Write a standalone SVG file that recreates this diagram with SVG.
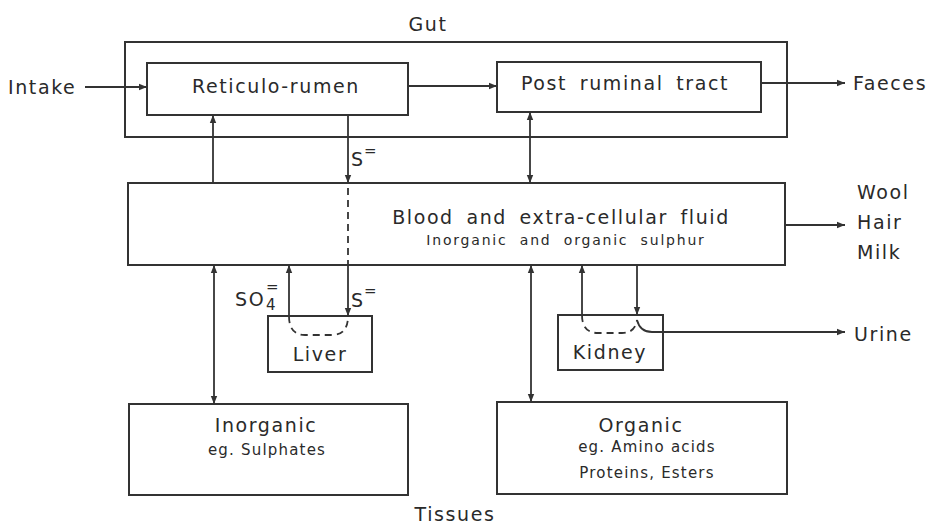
<svg xmlns="http://www.w3.org/2000/svg" width="936" height="525" viewBox="0 0 936 525">
<style>
.box{fill:none;stroke:#333;stroke-width:2}
.ln{fill:none;stroke:#333;stroke-width:1.8}
.ds{fill:none;stroke:#333;stroke-width:1.8;stroke-dasharray:7,5}
text{font-family:"DejaVu Sans","Liberation Sans",sans-serif;fill:#2a2a2a;text-anchor:middle}
.t{font-size:19px;letter-spacing:1.6px}
.w{word-spacing:5px}
.s{font-size:15px;letter-spacing:1.2px}
.b{font-size:14px;letter-spacing:1.8px;word-spacing:6px}
.sup{font-size:15px;text-anchor:start}
.l{text-anchor:start}
</style>
<defs>
<marker id="ah" viewBox="0 0 10 10" refX="10" refY="5" markerWidth="8" markerHeight="8" markerUnits="userSpaceOnUse" orient="auto-start-reverse">
<path d="M0,1 L10,5 L0,9 z" fill="#333"/>
</marker>
</defs>
<rect width="936" height="525" fill="#fff"/>
<text class="t" x="428" y="31">Gut</text>
<g id="gut"><rect class="box" x="125" y="42" width="662" height="95"/></g>
<g id="rumen"><rect class="box" x="147" y="63" width="261" height="52"/><text class="t" x="276" y="93">Reticulo-rumen</text></g>
<g id="post"><rect class="box" x="497" y="62" width="264" height="50"/><text class="t w" x="625" y="90">Post ruminal tract</text></g>
<g id="blood"><rect class="box" x="128" y="183" width="657" height="82"/><text class="t w" x="561" y="224">Blood and extra-cellular fluid</text><text class="b" x="566" y="245">Inorganic and organic sulphur</text></g>
<g id="liver"><rect class="box" x="268" y="316" width="104" height="56"/><text class="t" x="320" y="361">Liver</text></g>
<g id="kidney"><rect class="box" x="558" y="315" width="105" height="55"/><text class="t" x="610" y="359">Kidney</text></g>
<g id="inorganic"><rect class="box" x="129" y="404" width="279" height="91"/><text class="t" x="266" y="432">Inorganic</text><text class="s" x="267" y="455">eg. Sulphates</text></g>
<g id="organic"><rect class="box" x="497" y="402" width="290" height="92"/><text class="t" x="641" y="432">Organic</text><text class="s" x="647" y="452">eg. Amino acids</text><text class="s" x="647" y="478">Proteins, Esters</text></g>
<text class="t l" x="8" y="94">Intake</text>
<text class="t l" x="853" y="90">Faeces</text>
<text class="t l" x="857" y="199">Wool</text>
<text class="t l" x="857" y="229">Hair</text>
<text class="t l" x="857" y="259">Milk</text>
<text class="t l" x="854" y="341">Urine</text>
<text class="t" x="455" y="521">Tissues</text>
<text class="t l" x="351" y="166">S</text><text class="sup" x="364" y="156">=</text>
<text class="t l" x="351" y="307">S</text><text class="sup" x="364" y="296">=</text>
<text class="t l" x="235" y="306">SO</text><text class="sup" x="266" y="292">=</text><text class="sup" x="266" y="310">4</text>
<g id="connectors">
<line class="ln" x1="85" y1="87" x2="147" y2="87" marker-end="url(#ah)"/>
<line class="ln" x1="408" y1="86" x2="497" y2="86" marker-end="url(#ah)"/>
<line class="ln" x1="761" y1="83" x2="845" y2="83" marker-end="url(#ah)"/>
<line class="ln" x1="213" y1="183" x2="213" y2="115" marker-end="url(#ah)"/>
<line class="ln" x1="348" y1="115" x2="348" y2="183" marker-end="url(#ah)"/>
<line class="ds" x1="348" y1="188" x2="348" y2="265"/>
<line class="ln" x1="348" y1="265" x2="348" y2="316" marker-end="url(#ah)"/>
<line class="ln" x1="289" y1="316" x2="289" y2="265" marker-end="url(#ah)"/>
<path class="ds" d="M289,316 Q289,335 305,335 L332,335 Q348,335 348,316"/>
<line class="ln" x1="530" y1="112" x2="530" y2="183" marker-start="url(#ah)" marker-end="url(#ah)"/>
<line class="ln" x1="785" y1="225" x2="845" y2="225" marker-end="url(#ah)"/>
<line class="ln" x1="214" y1="265" x2="214" y2="404" marker-start="url(#ah)" marker-end="url(#ah)"/>
<line class="ln" x1="531" y1="265" x2="531" y2="402" marker-start="url(#ah)" marker-end="url(#ah)"/>
<line class="ln" x1="582" y1="315" x2="582" y2="265" marker-end="url(#ah)"/>
<line class="ln" x1="637" y1="265" x2="637" y2="315" marker-end="url(#ah)"/>
<path class="ds" d="M582,315 Q582,333 598,333 L622,333 Q635,333 637,320"/>
<path class="ln" d="M637,320 Q640,332 652,332 L845,332" marker-end="url(#ah)"/>
</g>
</svg>
